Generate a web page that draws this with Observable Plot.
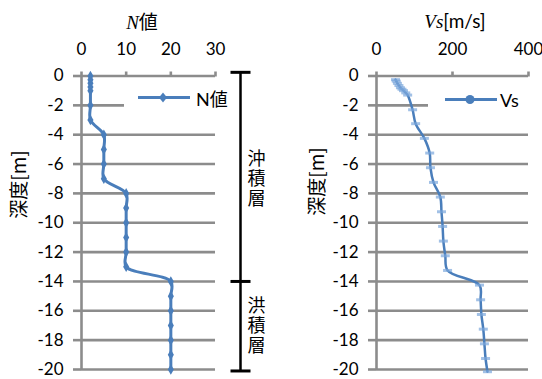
<!DOCTYPE html>
<html><head><meta charset="utf-8">
<script src="https://cdn.jsdelivr.net/npm/d3@7"></script>
<script src="https://cdn.jsdelivr.net/npm/@observablehq/plot@0.6"></script>
<style>
body{margin:0;background:#fff}
#root{position:relative;width:542px;height:379px;overflow:hidden;font-family:Lato,'Noto Sans CJK JP',sans-serif;color:#000}
.abs{position:absolute}
.ser{font-family:'Liberation Serif','Times New Roman',serif;font-style:italic}
.leg{position:absolute;background:#fff;display:flex;align-items:center;font-size:18px}
.vlabel text{writing-mode:vertical-rl;text-orientation:upright;letter-spacing:2px}
</style>
</head><body><div id="root"></div>
<script>
// ---- data ----
const depthTicks = [0,-2,-4,-6,-8,-10,-12,-14,-16,-18,-20];
const nTicks = [0,10,20,30];
const vsTicks = [0,200,400];
const nDepth = [0,-0.25,-0.5,-0.75,-1,-2,-3,-4,-5,-6,-7,-8,-9,-10,-11,-12,-13,-14,-15,-16,-17,-18,-19,-20];
const nValue = [2,2,2,2,2,2,2,5,5,5,5,10,10,10,10,10,10,20,20,20,20,20,20,20];
const vsDepth = [-0.25,-0.35,-0.5,-0.65,-0.8,-0.9,-1.0,-1.15,-1.3,-2.3,-3.25,-4.25,-5.25,-6.25,-7.25,-8.25,-9.25,-10.25,-11.25,-12.25,-13.25,-14.25,-15.25,-16.25,-17.25,-18.25,-19.25,-20.15];
const vsValue = [50,52,55,59,63,67,71,77,82,95,103,126,140,142,150,168,171,174,176,181,187,271,274,276,281,284,287,292];
const layerNames = ["沖積層","洪積層"];
const layerTop = [0,-14];
const layerBottom = [-14,-20];
const layerBounds = [0.25,-14,-20.1];

const nData = nDepth.map((d,i)=>({depth:d, value:nValue[i]}));
const vsData = vsDepth.map((d,i)=>({depth:d, value:vsValue[i]}));
const layers = layerNames.map((n,i)=>({name:n, mid:(layerTop[i]+layerBottom[i])/2}));

const gray = "#8c8c8c", blue = "#4a7ebb", gw = 2.6;
const font = "Lato,'Noto Sans CJK JP',sans-serif";
const hbar = w => ({draw(ctx){ctx.moveTo(-w/2,-1.5);ctx.lineTo(w/2,-1.5);ctx.lineTo(w/2,1.5);ctx.lineTo(-w/2,1.5);ctx.closePath();}});

function base(width, ml, mr, domain, ticks, marks){
  return Plot.plot({
    width, height:379, marginTop:75.5, marginBottom:10, marginLeft:ml, marginRight:mr,
    x:{domain, axis:null}, y:{domain:[-20,0], axis:null},
    style:{fontFamily:font, fontSize:"17px", color:"#000", background:"transparent", overflow:"visible"},
    marks:[
      Plot.gridY(depthTicks, {stroke:gray, strokeOpacity:1, strokeWidth:gw}),
      Plot.ruleX([0], {stroke:gray, strokeWidth:gw}),
      Plot.axisY(depthTicks, {anchor:"left", tickSize:8, tickPadding:10, stroke:gray, strokeWidth:gw, tickFormat:d=>String(d), label:null, fontSize:17}),
      Plot.axisX(ticks, {anchor:"top", tickSize:5, tickPadding:16, stroke:gray, strokeWidth:gw, label:null, fontSize:17}),
      Plot.text(["深度[m]"], {frameAnchor:"left", rotate:-90, dx: ml===81 ? -62 : -59, dy: ml===81 ? -4 : -7, fontSize:19, fontFamily:"'Noto Sans CJK JP',Lato"}),
      ...marks
    ]
  });
}

const left = base(270, 81, 55, [0,30], nTicks, [
  Plot.line(nData, {x:"value", y:"depth", stroke:blue, strokeWidth:3, curve:"catmull-rom"}),
  Plot.dot(nData, {x:"value", y:"depth", symbol:"diamond", r:3.2, fill:blue}),
  Plot.ruleX([layerBounds[0]], {x:()=>30, y1:layerBounds[0], y2:layerBounds[2], dx:25, stroke:"#000", strokeWidth:2.5}),
  Plot.dot(layerBounds, {x:()=>30, y:d=>d, dx:25, symbol:hbar(20), fill:"#000", r:1}),
  Plot.text(layers, {x:()=>30, y:"mid", text:"name", dx:41, dy:-5, fontSize:18, fontFamily:"'Noto Sans CJK JP'", className:"vlabel"})
]);
const right = base(272, 106, 14, [0,400], vsTicks, [
  Plot.line(vsData, {x:"value", y:"depth", stroke:blue, strokeWidth:2.5, curve:"catmull-rom"}),
  Plot.dot(vsData, {x:"value", y:"depth", symbol:hbar(9), fill:"#7aa6dc", fillOpacity:0.7, r:1})
]);
left.querySelectorAll(".vlabel text").forEach(t=>t.removeAttribute("dy"));

const root = document.getElementById("root");
left.style.position="absolute"; left.style.left="0px"; left.style.top="0px";
right.style.position="absolute"; right.style.left="270px"; right.style.top="0px";
root.append(left, right);

function addHTML(h){ const t=document.createElement("div"); t.innerHTML=h; root.append(...t.childNodes); }
addHTML(`<div class="abs" style="left:0;width:284px;top:10px;text-align:center;font-size:19px;line-height:22px"><span class="ser">N</span><span style="font-family:'Noto Sans CJK JP'">値</span></div>`);
addHTML(`<div class="abs" style="left:355px;width:200px;top:10px;text-align:center;font-size:19px;line-height:22px"><span class="ser">Vs</span><span>[m/s]</span></div>`);
addHTML(`<div class="leg" style="left:124px;top:86px;width:111px;height:23px"><svg width="72" height="23" style="flex:none"><line x1="14" x2="66" y1="11.5" y2="11.5" stroke="${blue}" stroke-width="3"/><path d="M39,6.5L43,11.5L39,16.5L35,11.5Z" fill="${blue}"/></svg><span style="font-family:Lato,'Noto Sans CJK JP'">N値</span></div>`);
addHTML(`<div class="leg" style="left:428px;top:88px;width:114px;height:23px"><svg width="72" height="23" style="flex:none"><line x1="17" x2="69" y1="11.5" y2="11.5" stroke="${blue}" stroke-width="3"/><circle cx="42" cy="11.5" r="4.5" fill="${blue}"/></svg><span>Vs</span></div>`);
</script></body></html>
